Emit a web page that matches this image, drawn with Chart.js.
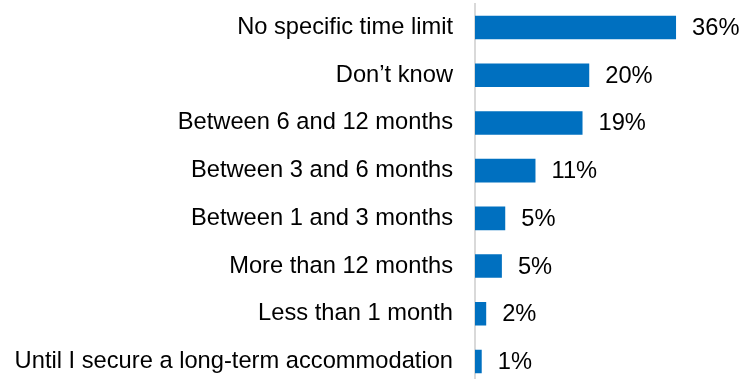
<!DOCTYPE html>
<html>
<head>
<meta charset="utf-8">
<script src="https://cdn.jsdelivr.net/npm/chart.js@4/dist/chart.umd.min.js"></script>
<style>
  html, body { margin: 0; padding: 0; background: #fff; overflow: hidden; }
  #wrap { position: relative; width: 741px; height: 390px; }
</style>
</head>
<body>
<div id="wrap"><canvas id="durationChart"></canvas></div>
<script>
// Categorii și valori
const categories = [
  "No specific time limit",
  "Don\u2019t know",
  "Between 6 and 12 months",
  "Between 3 and 6 months",
  "Between 1 and 3 months",
  "More than 12 months",
  "Less than 1 month",
  "Until I secure a long-term accommodation"
];
const shares = [35.9, 20.4, 19.2, 10.8, 5.4, 4.8, 2.0, 1.2];
const shareLabels = ["36%", "20%", "19%", "11%", "5%", "5%", "2%", "1%"];

const FONT = '"Liberation Sans", Arial, sans-serif';

// Etichete la capătul barelor
const valueLabels = {
  id: 'valueLabels',
  afterDatasetsDraw(chart) {
    const ctx = chart.ctx;
    const meta = chart.getDatasetMeta(0);
    ctx.save();
    ctx.font = '23.7px ' + FONT;
    ctx.fillStyle = '#000';
    ctx.textAlign = 'left';
    ctx.textBaseline = 'middle';
    meta.data.forEach((bar, i) => {
      ctx.fillText(shareLabels[i], bar.x + 16, bar.y + 1);
    });
    ctx.restore();
  }
};

const ctx = document.getElementById("durationChart").getContext("2d");
new Chart(ctx, {
  type: 'bar',
  data: {
    labels: categories,
    datasets: [{
      data: shares,
      backgroundColor: '#0070c0',
      borderWidth: 0,
      categoryPercentage: 1,
      barPercentage: 0.495
    }]
  },
  options: {
    indexAxis: 'y',
    responsive: true,
    maintainAspectRatio: false,
    animation: false,
    layout: { padding: { top: 3.7, bottom: 4.7, left: 0, right: 42 } },
    plugins: {
      legend: { display: false },
      tooltip: { enabled: false }
    },
    scales: {
      x: {
        display: false,
        min: 0,
        max: 40
      },
      y: {
        afterFit(scale) {
          scale.width = 475;
          scale.paddingTop = 0;
          scale.paddingBottom = 0;
        },
        grid: { display: false, drawTicks: false },
        border: { display: true, color: '#d9d9d9', width: 2 },
        ticks: {
          padding: 22,
          color: '#000',
          font: { family: FONT, size: 23.7 }
        }
      }
    }
  },
  plugins: [valueLabels]
});
</script>
</body>
</html>
